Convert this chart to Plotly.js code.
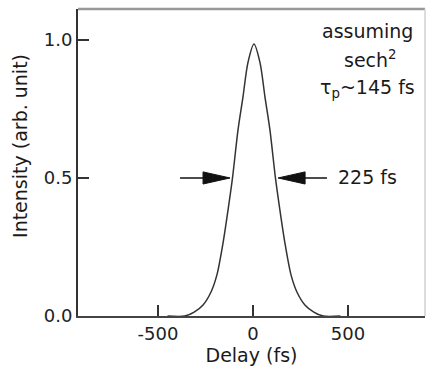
<!DOCTYPE html>
<html>
<head>
<meta charset="utf-8">
<script src="https://cdn.plot.ly/plotly-3.0.1.min.js"></script>
<style>html,body{margin:0;padding:0;background:#fff;}#chart{width:427px;height:367px;}</style>
</head>
<body>
<div id="chart"></div>
<script>
// Autocorrelation trace
var delayFs = [-450, -360, -310, -263, -221, -190, -157, -130, -108, -79, -53, -27, 5, 37, 63, 89, 118, 140, 167, 200, 231, 273, 320, 370, 460];
var intensity = [0, 0, 0.014, 0.04, 0.087, 0.149, 0.268, 0.391, 0.5, 0.674, 0.793, 0.917, 0.985, 0.917, 0.793, 0.674, 0.5, 0.391, 0.268, 0.149, 0.087, 0.04, 0.014, 0, 0];

var xTickVals = [-500, 0, 500];
var xTickText = ["-500", "0", "500"];
var yTickVals = [0, 0.5, 1.0];
var yTickText = ["0.0", "0.5", "1.0"];

// FWHM arrows
var halfLevel = 0.5;
var leftArrowTail = -384, leftArrowTip = -121;
var rightArrowTail = 389, rightArrowTip = 132;
var headLen = 142, headHalf = 0.022;

var fontFam = "DejaVu Sans, Arial, sans-serif";

var trace = {
  x: delayFs, y: intensity, type: "scatter", mode: "lines",
  line: {color: "#333", width: 1.5, shape: "spline", smoothing: 0.8},
  hoverinfo: "skip"
};

function tri(tip, dir) {
  var base = tip - dir * headLen;
  return "M" + tip + "," + halfLevel + " L" + base + "," + (halfLevel + headHalf) +
         " L" + base + "," + (halfLevel - headHalf) + " Z";
}

var shapes = [
  {type: "line", xref: "x", yref: "y", x0: leftArrowTail, x1: leftArrowTip - headLen * 0.5, y0: halfLevel, y1: halfLevel, line: {color: "#111", width: 1.5}},
  {type: "path", xref: "x", yref: "y", path: tri(leftArrowTip, 1), fillcolor: "#111", line: {color: "#111", width: 1}},
  {type: "line", xref: "x", yref: "y", x0: rightArrowTail, x1: rightArrowTip + headLen * 0.5, y0: halfLevel, y1: halfLevel, line: {color: "#111", width: 1.5}},
  {type: "path", xref: "x", yref: "y", path: tri(rightArrowTip, -1), fillcolor: "#111", line: {color: "#111", width: 1}},
  {type: "line", xref: "paper", yref: "paper", x0: 0, x1: 1, y0: 1, y1: 1, line: {color: "#999", width: 2.5}},
  {type: "line", xref: "paper", yref: "paper", x0: 1, x1: 1, y0: 0, y1: 1, line: {color: "#d0d0d0", width: 1.5}}
];

var annFont = {family: fontFam, size: 19, color: "#1a1a1a"};
var annotations = [
  {xref: "x", yref: "y", x: 605, y: 1.033, text: "assuming", showarrow: false, font: annFont, xanchor: "center", yanchor: "middle"},
  {xref: "x", yref: "y", x: 616, y: 0.93, text: "sech<sup>2</sup>", showarrow: false, font: annFont, xanchor: "center", yanchor: "middle"},
  {xref: "x", yref: "y", x: 600, y: 0.825, text: "τ<sub>p</sub>~145 fs", showarrow: false, font: annFont, xanchor: "center", yanchor: "middle"},
  {xref: "x", yref: "y", x: 600, y: 0.504, text: "225 fs", showarrow: false, font: annFont, xanchor: "center", yanchor: "middle"},
  {xref: "paper", yref: "paper", x: -0.167, y: 0.554, text: "Intensity (arb. unit)", textangle: -90, showarrow: false,
   font: {family: fontFam, size: 19, color: "#1a1a1a"}, xanchor: "center", yanchor: "middle"}
];

var layout = {
  width: 427, height: 367,
  margin: {l: 78, r: 2, t: 9, b: 51},
  paper_bgcolor: "#fff", plot_bgcolor: "#fff",
  showlegend: false,
  xaxis: {
    range: [-921, 905], showgrid: false, zeroline: false,
    showline: true, linecolor: "#444", linewidth: 2,
    ticks: "inside", ticklen: 11, tickwidth: 1.5, tickcolor: "#333",
    tickvals: xTickVals, ticktext: xTickText,
    tickfont: {family: fontFam, size: 18, color: "#222"},
    ticklabelstandoff: 0,
    title: {text: "Delay (fs)", font: {family: fontFam, size: 19, color: "#1a1a1a"}, standoff: 2}
  },
  yaxis: {
    range: [0, 1.112], showgrid: false, zeroline: false,
    showline: true, linecolor: "#333", linewidth: 2,
    ticks: "inside", ticklen: 11, tickwidth: 1.5, tickcolor: "#333",
    tickvals: yTickVals, ticktext: yTickText,
    tickfont: {family: fontFam, size: 18, color: "#222"},
    ticklabelstandoff: 0
  },
  shapes: shapes,
  annotations: annotations
};

Plotly.newPlot("chart", [trace], layout, {displayModeBar: false, staticPlot: true});
</script>
</body>
</html>
